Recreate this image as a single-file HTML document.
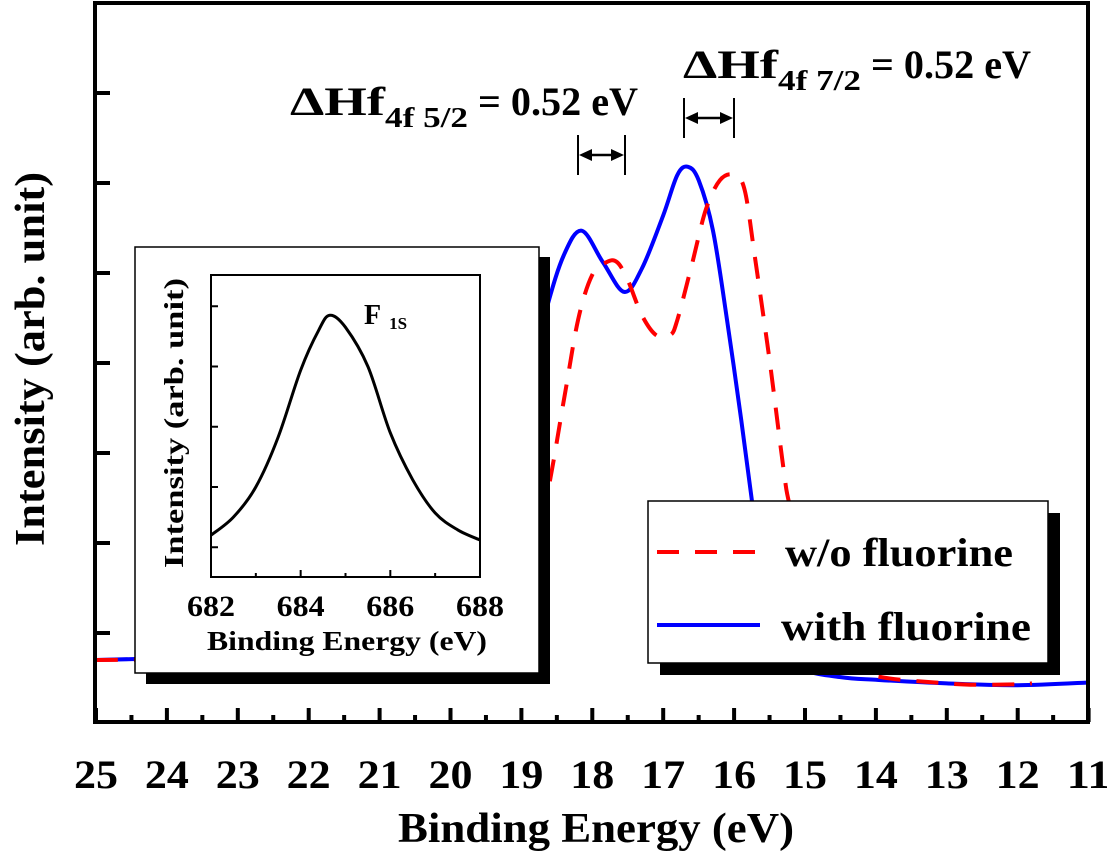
<!DOCTYPE html>
<html><head><meta charset="utf-8"><style>
body{margin:0;background:#fff}
svg{display:block;font-family:"Liberation Serif",serif;font-weight:bold}
</style></head><body>
<svg id="c" width="1107" height="852" viewBox="0 0 1107 852">
</svg>
<script>
const energies=[25,24,23,22,21,20,19.5,19,18.65,18.4,18.15,17.85,17.55,17.3,17,16.8,16.65,16.5,16.3,16.1,15.9,15.75,15.6,15.3,15,14.5,14,13,12,11];
const withF=[0.70,0.72,0.74,0.78,0.85,1.1,1.8,3.5,4.59,5.2,5.47,5.12,4.79,5.05,5.64,6.09,6.18,6.03,5.48,4.48,3.37,2.48,1.7,0.81,0.59,0.51,0.48,0.44,0.42,0.45];
const woEnergies=[25,22,20,19,18.65,18.4,18.2,18,17.8,17.65,17.5,17.3,17.1,16.9,16.8,16.6,16.4,16.2,16,15.85,15.7,15.5,15.3,15.2,14.8,14.3,13,12,11.8];
const woF=[0.70,0.72,0.8,1.3,2.48,3.59,4.48,4.98,5.12,5.12,4.92,4.53,4.31,4.31,4.48,5.08,5.7,6.03,6.09,5.92,5.14,4.03,2.81,2.37,1.2,0.6,0.44,0.43,0.44];
const xTicks=[25,24,23,22,21,20,19,18,17,16,15,14,13,12,11];
const yTicks=[1,2,3,4,5,6,7];
const insetE=[682,682.5,683,683.5,684,684.4,684.65,685,685.5,686,686.5,687,687.5,688];
const insetI=[1.2,1.5,2.0,2.83,3.94,4.6,4.85,4.65,4.0,2.9,2.12,1.57,1.29,1.12];
const insetXTicks=[682,684,686,688];
const insetYTicks=[1,2,3,4,5];

const NS="http://www.w3.org/2000/svg";
const svg=document.getElementById('c');
function mk(tag,attrs,parent){const e=document.createElementNS(NS,tag);for(const k in attrs)e.setAttribute(k,attrs[k]);(parent||svg).appendChild(e);return e;}
const X=e=>96+(25-e)*70.9;
const Y=v=>723-v*90;
const IX=e=>211+(e-682)*44.83;
const IY=v=>607.5-v*60.25;
function pathD(xs,ys,fx,fy){
  const p=xs.map((e,i)=>[fx(e),fy(ys[i])]);
  let d='M'+p[0][0].toFixed(1)+' '+p[0][1].toFixed(1);
  for(let i=0;i<p.length-1;i++){
    const p0=p[i-1]||p[i],p1=p[i],p2=p[i+1],p3=p[i+2]||p2;
    const c1=[p1[0]+(p2[0]-p0[0])/6,p1[1]+(p2[1]-p0[1])/6];
    const c2=[p2[0]-(p3[0]-p1[0])/6,p2[1]-(p3[1]-p1[1])/6];
    d+=` C${c1[0].toFixed(1)} ${c1[1].toFixed(1)} ${c2[0].toFixed(1)} ${c2[1].toFixed(1)} ${p2[0].toFixed(1)} ${p2[1].toFixed(1)}`;
  }
  return d;
}
const TL={textLength:0,lengthAdjust:'spacingAndGlyphs'};

const pw=mk('path',{d:pathD(energies,withF,X,Y),fill:'none',stroke:'#0000ff','stroke-width':4,'stroke-linejoin':'round'});


const pr=mk('path',{d:pathD(woEnergies,woF,X,Y),fill:'none',stroke:'#ff0000','stroke-width':4,'stroke-dasharray':'22,16'});



const fr=mk('rect',{x:95,y:3,width:993,height:719,fill:'none',stroke:'#000','stroke-width':4});


xTicks.forEach(t=>{
  const l=mk('line',{x1:X(t),x2:X(t),y1:722,y2:708,stroke:'#000','stroke-width':4});
  
  
  if(t>11){const m=mk('line',{x1:X(t-0.5),x2:X(t-0.5),y1:722,y2:715,stroke:'#000','stroke-width':4});
  
  }
  const tx=mk('text',{x:X(t),y:788,'font-size':40,'text-anchor':'middle',textLength:44,lengthAdjust:'spacingAndGlyphs'});
  tx.textContent=t;
  
  
});
yTicks.forEach(v=>{
  const l=mk('line',{x1:95,x2:110,y1:Y(v),y2:Y(v),stroke:'#000','stroke-width':4});
  
  
});
const xt=mk('text',{x:596,y:842,'font-size':42,'text-anchor':'middle',textLength:396,lengthAdjust:'spacingAndGlyphs'});
xt.textContent='Binding Energy (eV)';


const yt=mk('text',{x:0,y:0,'font-size':42,'text-anchor':'middle',transform:'translate(44,359) rotate(-90)',textLength:374,lengthAdjust:'spacingAndGlyphs'});
yt.textContent='Intensity (arb. unit)';



function annot(x,y,sub,name){
  const g=mk('text',{x:x,y:y,'font-size':40});
  
  
  const a=mk('tspan',{textLength:95,lengthAdjust:'spacingAndGlyphs'},g);a.textContent='ΔHf';
  const b=mk('tspan',{'font-size':28,dy:12,textLength:83,lengthAdjust:'spacingAndGlyphs'},g);b.textContent=sub;
  const c=mk('tspan',{dy:-12,textLength:170,lengthAdjust:'spacingAndGlyphs'},g);c.textContent=' = 0.52 eV';
}
annot(290,115,'4f 5/2','hf-4f52-annotation');
annot(683,78,'4f 7/2','hf-4f72-annotation');
function arrow(x1,x2,y,name){
  const g=mk('g',{});
  
  
  mk('line',{x1:x1,x2:x1,y1:y-20,y2:y+20,stroke:'#000','stroke-width':2},g);
  mk('line',{x1:x2,x2:x2,y1:y-20,y2:y+20,stroke:'#000','stroke-width':2},g);
  mk('line',{x1:x1+4,x2:x2-4,y1:y,y2:y,stroke:'#000','stroke-width':2.5},g);
  mk('polygon',{points:`${x1+1},${y} ${x1+14},${y-6} ${x1+14},${y+6}`,fill:'#000'},g);
  mk('polygon',{points:`${x2-1},${y} ${x2-14},${y-6} ${x2-14},${y+6}`,fill:'#000'},g);
}
arrow(578,625,155,'shift-arrow-4f52');
arrow(684,734,118,'shift-arrow-4f72');

const lg=mk('g',{});


mk('rect',{x:660,y:513,width:400,height:162,fill:'#000'},lg);
mk('rect',{x:648,y:501,width:400,height:162,fill:'#fff',stroke:'#000','stroke-width':1.5},lg);
const l1=mk('line',{x1:657,x2:762,y1:552,y2:552,stroke:'#ff0000','stroke-width':4,'stroke-dasharray':'22,16'},lg);


const t1=mk('text',{x:785,y:566,'font-size':40,textLength:228,lengthAdjust:'spacingAndGlyphs'},lg);t1.textContent='w/o fluorine';
const l2=mk('line',{x1:657,x2:760,y1:625,y2:625,stroke:'#0000ff','stroke-width':4},lg);


const t2=mk('text',{x:781,y:640,'font-size':40,textLength:250,lengthAdjust:'spacingAndGlyphs'},lg);t2.textContent='with fluorine';

const ins=mk('g',{});


mk('rect',{x:146,y:257,width:404,height:427,fill:'#000'},ins);
mk('rect',{x:135,y:247,width:404,height:426,fill:'#fff',stroke:'#000','stroke-width':1.5},ins);
mk('rect',{x:211,y:275,width:269,height:302,fill:'none',stroke:'#000','stroke-width':2},ins);
insetYTicks.forEach(v=>{
  const l=mk('line',{x1:211,x2:218,y1:IY(v),y2:IY(v),stroke:'#000','stroke-width':2},ins);
  
  
});
insetXTicks.forEach(t=>{
  const l=mk('line',{x1:IX(t),x2:IX(t),y1:577,y2:570,stroke:'#000','stroke-width':2},ins);
  
  
  if(t<688){const m=mk('line',{x1:IX(t+1),x2:IX(t+1),y1:577,y2:573,stroke:'#000','stroke-width':2},ins);
  
  }
  const tx=mk('text',{x:IX(t),y:616,'font-size':30,'text-anchor':'middle',textLength:48,lengthAdjust:'spacingAndGlyphs'},ins);
  tx.textContent=t;
  
  
});
const ip=mk('path',{d:pathD(insetE,insetI,IX,IY),fill:'none',stroke:'#000','stroke-width':3,'stroke-linejoin':'round'},ins);


const ft=mk('text',{x:364,y:324,'font-size':28},ins);
ft.innerHTML='F<tspan font-size="17" dx="8" dy="5">1S</tspan>';


const ixt=mk('text',{x:347,y:650,'font-size':27,'text-anchor':'middle',textLength:280,lengthAdjust:'spacingAndGlyphs'},ins);
ixt.textContent='Binding Energy (eV)';


const iyt=mk('text',{x:0,y:0,'font-size':27,'text-anchor':'middle',transform:'translate(183,423) rotate(-90)',textLength:290,lengthAdjust:'spacingAndGlyphs'},ins);
iyt.textContent='Intensity (arb. unit)';


</script>
</body></html>
